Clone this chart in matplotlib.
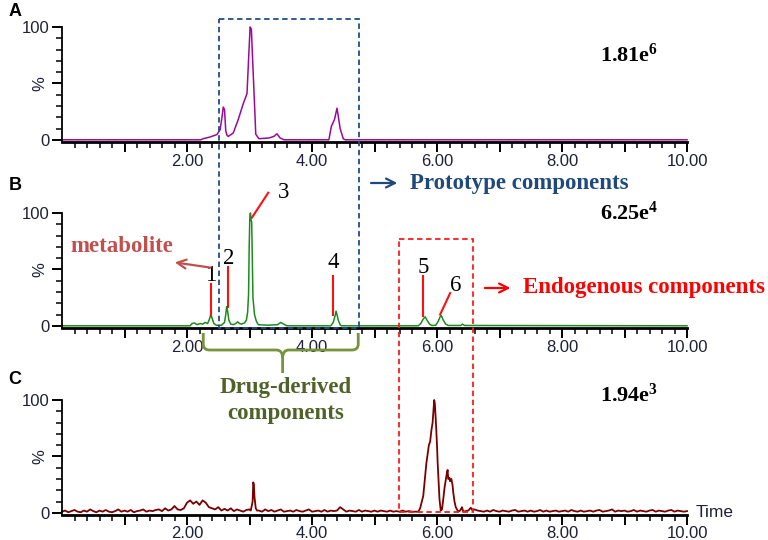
import numpy as np
import matplotlib
matplotlib.use("Agg")
import matplotlib.pyplot as plt
from matplotlib.patches import Rectangle, PathPatch
from matplotlib.path import Path

plt.rcParams["font.family"] = ["Liberation Sans", "DejaVu Sans"]
plt.rcParams["mathtext.fontset"] = "custom"
plt.rcParams["mathtext.rm"] = "Liberation Serif:bold"
plt.rcParams["mathtext.bf"] = "Liberation Serif:bold"

# ---- data (time in min, relative intensity in %) ----
a_time = [0, 2.22, 2.26, 2.37, 2.48, 2.53, 2.565, 2.58, 2.60, 2.62, 2.64, 2.66, 2.74,
          2.82, 2.90, 2.96, 2.99, 3.01, 3.03, 3.05, 3.08, 3.10, 3.15, 3.31, 3.39, 3.44,
          3.49, 3.55, 4.27, 4.31, 4.36, 4.40, 4.42, 4.45, 4.50, 4.53, 10]
a_int = [0, 0, 1, 2.5, 4.7, 9, 22, 29, 27, 8, 4, 3, 6,
         18, 32, 41, 77, 100, 98, 71, 32, 5, 1, 1.6, 3, 5.3,
         1.6, 0, 0, 12, 18, 28, 21, 10, 1, 0, 0]

b_time = [0, 2.05, 2.08, 2.12, 2.16, 2.21, 2.25, 2.29, 2.33, 2.36, 2.38, 2.40, 2.43, 2.47,
          2.55, 2.60, 2.62, 2.635, 2.65, 2.67, 2.70, 2.74, 2.78, 2.81, 2.84, 2.87, 2.92,
          2.95, 2.97, 2.985, 2.995, 3.005, 3.015, 3.025, 3.035, 3.045, 3.055, 3.08, 3.11,
          3.14, 3.30, 3.45, 3.50, 3.53, 3.58, 3.60, 4.30, 4.34, 4.37, 4.385, 4.40, 4.42,
          4.45, 4.47, 5.70, 5.74, 5.78, 5.81, 5.84, 5.88, 5.92, 5.98, 6.02, 6.05, 6.07,
          6.10, 6.14, 6.18, 6.38, 6.41, 6.44, 10]
b_int = [0, 0, 2, 2.5, 1, 2, 1.5, 3, 2, 6, 10, 7, 2, 0.5,
         0.5, 3, 10, 17, 13, 5, 1.5, 1, 2, 3.5, 2, 1.5, 2.5,
         5, 12, 28, 70, 96, 100, 94, 92, 60, 25, 10, 4,
         1, 0.5, 1, 3, 2, 0.5, 0, 0, 3, 9, 13, 10, 5,
         1, 0, 0, 2, 6, 8, 5, 1.5, 0.3, 0.5, 4, 8, 9,
         5, 1.5, 0.3, 0.3, 1.5, 0.3, 0]

# noisy baseline of C, one value every 0.05 min from 0.00 to 10.00
c_noise = [1, 2, 0.5, 1.5, 2.5, 1, 0.5, 2, 1, 3,
           1.5, 0.5, 2, 1, 2.5, 1, 0.5, 1.5, 3, 1,
           2, 1, 2.5, 0.5, 1.5, 2, 3, 1, 2, 1.5,
           2.5, 3, 1.5, 4, 2, 3, 6, 3, 2.5, 4,
           9, 11, 8, 10, 7, 11, 9, 5, 4, 3,
           5, 2, 3.5, 2, 4, 1.5, 3, 2, 1, 2.5,
           3, 0, 0, 2, 1, 3, 1.5, 2.5, 1, 2,
           3, 1, 1.5, 2, 1, 2.5, 1.5, 1, 2, 3,
           1, 1.5, 2, 1, 2.5, 1, 2, 1.5, 2, 5,
           3, 1, 2, 1.5, 1, 2.5, 1, 2, 1.5, 1,
           2, 1, 2, 1.5, 1, 2, 1, 1.5, 1, 2,
           1, 1.5, 1, 1, 1.5, 0, 0, 0, 0, 0,
           0, 0, 0, 0, 0, 0, 0, 0, 0, 0,
           0, 0, 3, 2, 1.5, 1, 2, 1, 2.5, 1.5,
           1, 2, 1.5, 1, 2, 2.5, 1, 1.5, 2, 1,
           2, 1, 1.5, 2.5, 1, 2, 1, 1.5, 2, 1,
           1.5, 2, 1, 2.5, 1.5, 1, 2, 1, 1.5, 2,
           1, 2, 2.5, 1, 1.5, 2, 3, 1, 2, 1.5,
           2, 1, 1.5, 2.5, 1, 2, 1.5, 1, 2, 2.5,
           1, 2, 1.5, 1, 2, 2.5, 1, 2, 1.5, 1,
           1.5]
c_peak_time = [3.02, 3.05, 3.06, 3.07, 3.08, 3.10, 3.12,
               5.70, 5.73, 5.78, 5.83, 5.87, 5.89, 5.91, 5.93, 5.94, 5.955, 5.965, 5.98,
               6.00, 6.01, 6.04, 6.06, 6.08, 6.10, 6.12, 6.14, 6.16, 6.17, 6.18, 6.20,
               6.21, 6.23, 6.25, 6.26, 6.28, 6.30, 6.34, 6.37, 6.40, 6.42, 6.46, 6.50,
               6.54, 6.57, 6.60]
c_peak_int = [2, 10, 27, 25, 14, 4, 2,
              1, 4, 15, 44, 60, 63, 73, 80, 88, 100, 97, 83,
              60, 45, 12, 2, 3, 12, 22, 29, 36, 38, 30, 31,
              28, 30, 24, 18, 10, 5, 1, 2, 5, 1, 1.5, 2,
              4.5, 2, 3]
c_peak_windows = [(3.015, 3.125), (5.69, 6.61)]

scale_labels = [r"$\mathbf{1.81e^{6}}$", r"$\mathbf{6.25e^{4}}$", r"$\mathbf{1.94e^{3}}$"]
panel_letters = ["A", "B", "C"]
peak_ids = ["1", "2", "3", "4", "5", "6"]

# merge C noise and peaks
c_grid = np.round(np.linspace(0, 10, len(c_noise)), 3)
keep = np.ones(len(c_grid), bool)
for lo, hi in c_peak_windows:
    keep &= ~((c_grid >= lo) & (c_grid <= hi))
c_time = np.concatenate([c_grid[keep], c_peak_time])
c_int = np.concatenate([np.array(c_noise)[keep], c_peak_int])
order = np.argsort(c_time)
c_time, c_int = c_time[order], c_int[order]

W, H = 768, 540
fig = plt.figure(figsize=(W / 100, H / 100), dpi=100)

tick_col = "#202038"
left, width = 62 / W, 625 / W
axes = []
for spine_px in (141.5, 327.5, 514.5):
    ax = fig.add_axes([left, 1 - spine_px / H, width, 114.5 / H])
    ax.set_xlim(0, 10)
    ax.set_ylim(-1.5, 100)
    for s in ("top", "right"):
        ax.spines[s].set_visible(False)
    ax.spines["bottom"].set_linewidth(2)
    ax.spines["left"].set_linewidth(1.3)
    ax.set_xticks(np.arange(1, 11),
                  ["", "2.00", "", "4.00", "", "6.00", "", "8.00", "", "10.00"])
    ax.set_xticks(np.arange(0.2, 10, 0.2), minor=True)
    ax.set_yticks([0, 50, 100], ["0", "", "100"])
    ax.set_yticks(np.arange(10, 100, 10), minor=True)
    ax.tick_params(which="major", length=7, width=1.4, direction="out",
                   labelsize=12, labelcolor=tick_col, pad=2)
    ax.tick_params(which="minor", length=4, width=1.1, direction="out")
    ax.set_ylabel("%", fontsize=12, color=tick_col)
    ax.yaxis.set_label_coords(-0.024, 0.507)
    axes.append(ax)

ax_a, ax_b, ax_c = axes
ax_c.tick_params(axis="x", which="major", pad=1)
ax_a.plot(a_time, a_int, color="#9A0A9A", lw=1.1, clip_on=False)
ax_b.plot(b_time, b_int, color="#1E8A1E", lw=1.1, clip_on=False)
ax_c.plot(c_time, c_int, color="#7A0000", lw=1.3, clip_on=False)
ax_c.text(10.13, 0, "Time", fontsize=12.5, color=tick_col, ha="left", va="center")

# ---- overlay: x in minutes, y in pixel rows ----
ov = fig.add_axes([left, 0, width, 1])
ov.set_xlim(0, 10)
ov.set_ylim(H, 0)
ov.axis("off")
ov.patch.set_alpha(0)

serif = ["Liberation Serif", "DejaVu Serif"]

for letter, ypx in zip(panel_letters, (12, 186, 380)):
    ov.text(-0.75, ypx, letter, fontsize=13, fontweight="bold", ha="center", va="center",
            clip_on=False)

for lab, ypx in zip(scale_labels, (55, 213, 395)):
    ov.text(8.6, ypx, lab, fontsize=16, ha="left", va="center", color="black")

# dashed boxes
ov.add_patch(Rectangle((2.51, 19), 2.24, 309, fill=False, ec="#1F4E85", lw=1.3,
                       ls=(0, (3, 2)), clip_on=False))
ov.add_patch(Rectangle((5.39, 239), 1.19, 273, fill=False, ec="#FF1A1A", lw=1.3,
                       ls=(0, (3, 2)), clip_on=False))

# prototype / endogenous / metabolite labels
ov.annotate("", xy=(5.41, 183), xytext=(4.90, 183),
            arrowprops=dict(arrowstyle="->", color="#1F497D", lw=1.6, mutation_scale=16))
ov.text(5.57, 184, "Prototype components", family=serif, fontsize=16.5,
        fontweight="bold", color="#1F497D", ha="left", va="center")
ov.annotate("", xy=(7.22, 288), xytext=(6.72, 288),
            arrowprops=dict(arrowstyle="->", color="#FF0000", lw=1.6, mutation_scale=16))
ov.text(7.38, 288, "Endogenous components", family=serif, fontsize=16.5,
        fontweight="bold", color="#FF0000", ha="left", va="center", clip_on=False)
ov.annotate("", xy=(1.76, 262), xytext=(2.42, 268),
            arrowprops=dict(arrowstyle="->", color="#C0504D", lw=1.6, mutation_scale=16))
ov.text(0.13, 247, "metabolite", family=serif, fontsize=16.5,
        fontweight="bold", color="#C0504D", ha="left", va="center")

# brace under B and its label
brace_col = "#77933C"
cx = 3.53
verts = [(2.26, 333), (2.26, 344), (2.26, 350), (2.36, 350), (cx - 0.1, 350),
         (cx, 350), (cx, 358), (cx, 373),
         (4.74, 333), (4.74, 344), (4.74, 350), (4.64, 350), (cx + 0.1, 350),
         (cx, 350), (cx, 358)]
codes = [Path.MOVETO, Path.LINETO, Path.CURVE3, Path.CURVE3, Path.LINETO,
         Path.CURVE3, Path.CURVE3, Path.LINETO,
         Path.MOVETO, Path.LINETO, Path.CURVE3, Path.CURVE3, Path.LINETO,
         Path.CURVE3, Path.CURVE3]
ov.add_patch(PathPatch(Path(verts, codes), fill=False, ec=brace_col, lw=2))
ov.text(cx + 0.04, 388, "Drug-derived", family=serif, fontsize=16.5, fontweight="bold",
        color="#4F6228", ha="center", va="center")
ov.text(cx + 0.04, 413, "components", family=serif, fontsize=16.5, fontweight="bold",
        color="#4F6228", ha="center", va="center")

# peak numbers with red leader lines (in B data units)
leaders = [((2.38, 37), (2.38, 10)), ((2.66, 52), (2.66, 17)), ((3.30, 118), (3.04, 96)),
           ((4.34, 44), (4.34, 10)), ((5.78, 44), (5.78, 9)), ((6.21, 29), (6.05, 10))]
label_pos = [(2.38, 45), (2.66, 60), (3.55, 118), (4.34, 56), (5.78, 52), (6.30, 36)]
for pid, (p0, p1), (lx, ly) in zip(peak_ids, leaders, label_pos):
    ax_b.plot([p0[0], p1[0]], [p0[1], p1[1]], color="#FF1010", lw=1.5, clip_on=False)
    ax_b.text(lx, ly, pid, family=serif, fontsize=16.5, ha="center", va="center",
              clip_on=False)

fig.savefig("out.png", dpi=100)
